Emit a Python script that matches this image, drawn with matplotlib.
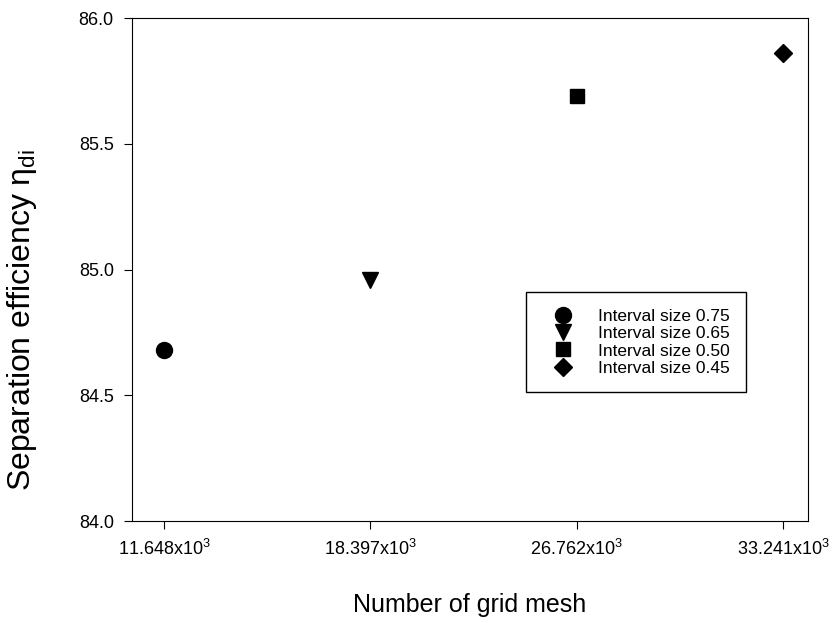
import numpy as np
import matplotlib.pyplot as plt

plt.rcParams['font.family'] = ['Liberation Sans', 'DejaVu Sans']
plt.rcParams['mathtext.fontset'] = 'custom'
plt.rcParams['mathtext.rm'] = 'Liberation Sans'
plt.rcParams['mathtext.it'] = 'Liberation Sans'

# data
mesh_labels = ['11.648x10$^3$', '18.397x10$^3$', '26.762x10$^3$', '33.241x10$^3$']
efficiency = [84.68, 84.96, 85.69, 85.86]
series_names = ['Interval size 0.75', 'Interval size 0.65', 'Interval size 0.50', 'Interval size 0.45']
markers = ['o', 'v', 's', 'D']
sizes = [11.5, 11, 9.5, 9.5]

fig = plt.figure(figsize=(8.35, 6.23), dpi=100)
ax = fig.add_axes([0.158, 0.1637, 0.8096, 0.8074])

pos = np.arange(len(mesh_labels))
for i in range(len(pos)):
    ax.plot(pos[i], efficiency[i], linestyle='none', marker=markers[i],
            markersize=sizes[i], color='black', label=series_names[i])

ax.set_xlim(-0.155, 3.12)
ax.set_ylim(84.0, 86.0)
ax.set_xticks(pos)
ax.set_xticklabels(mesh_labels)
ax.set_yticks([84.0, 84.5, 85.0, 85.5, 86.0])
ax.set_yticklabels(['84.0', '84.5', '85.0', '85.5', '86.0'])
ax.tick_params(direction='out', length=6, labelsize=13, top=False, right=False)
ax.tick_params(axis='x', pad=7)
ax.tick_params(axis='y', pad=7)

ax.set_xlabel('Number of grid mesh', fontsize=18, labelpad=24)
ax.set_ylabel('Separation efficiency $\\eta_{di}$', fontsize=23)
ax.yaxis.set_label_coords(-0.138, 0.40)

leg = ax.legend(loc='lower left', bbox_to_anchor=(0.583, 0.256), fontsize=12.5,
                frameon=True, fancybox=False, edgecolor='black', framealpha=1,
                handlelength=2.3, handletextpad=0.9, borderpad=0.95,
                labelspacing=0.12, borderaxespad=0)
leg.get_frame().set_linewidth(1.0)

fig.savefig('out.png', dpi=100)
